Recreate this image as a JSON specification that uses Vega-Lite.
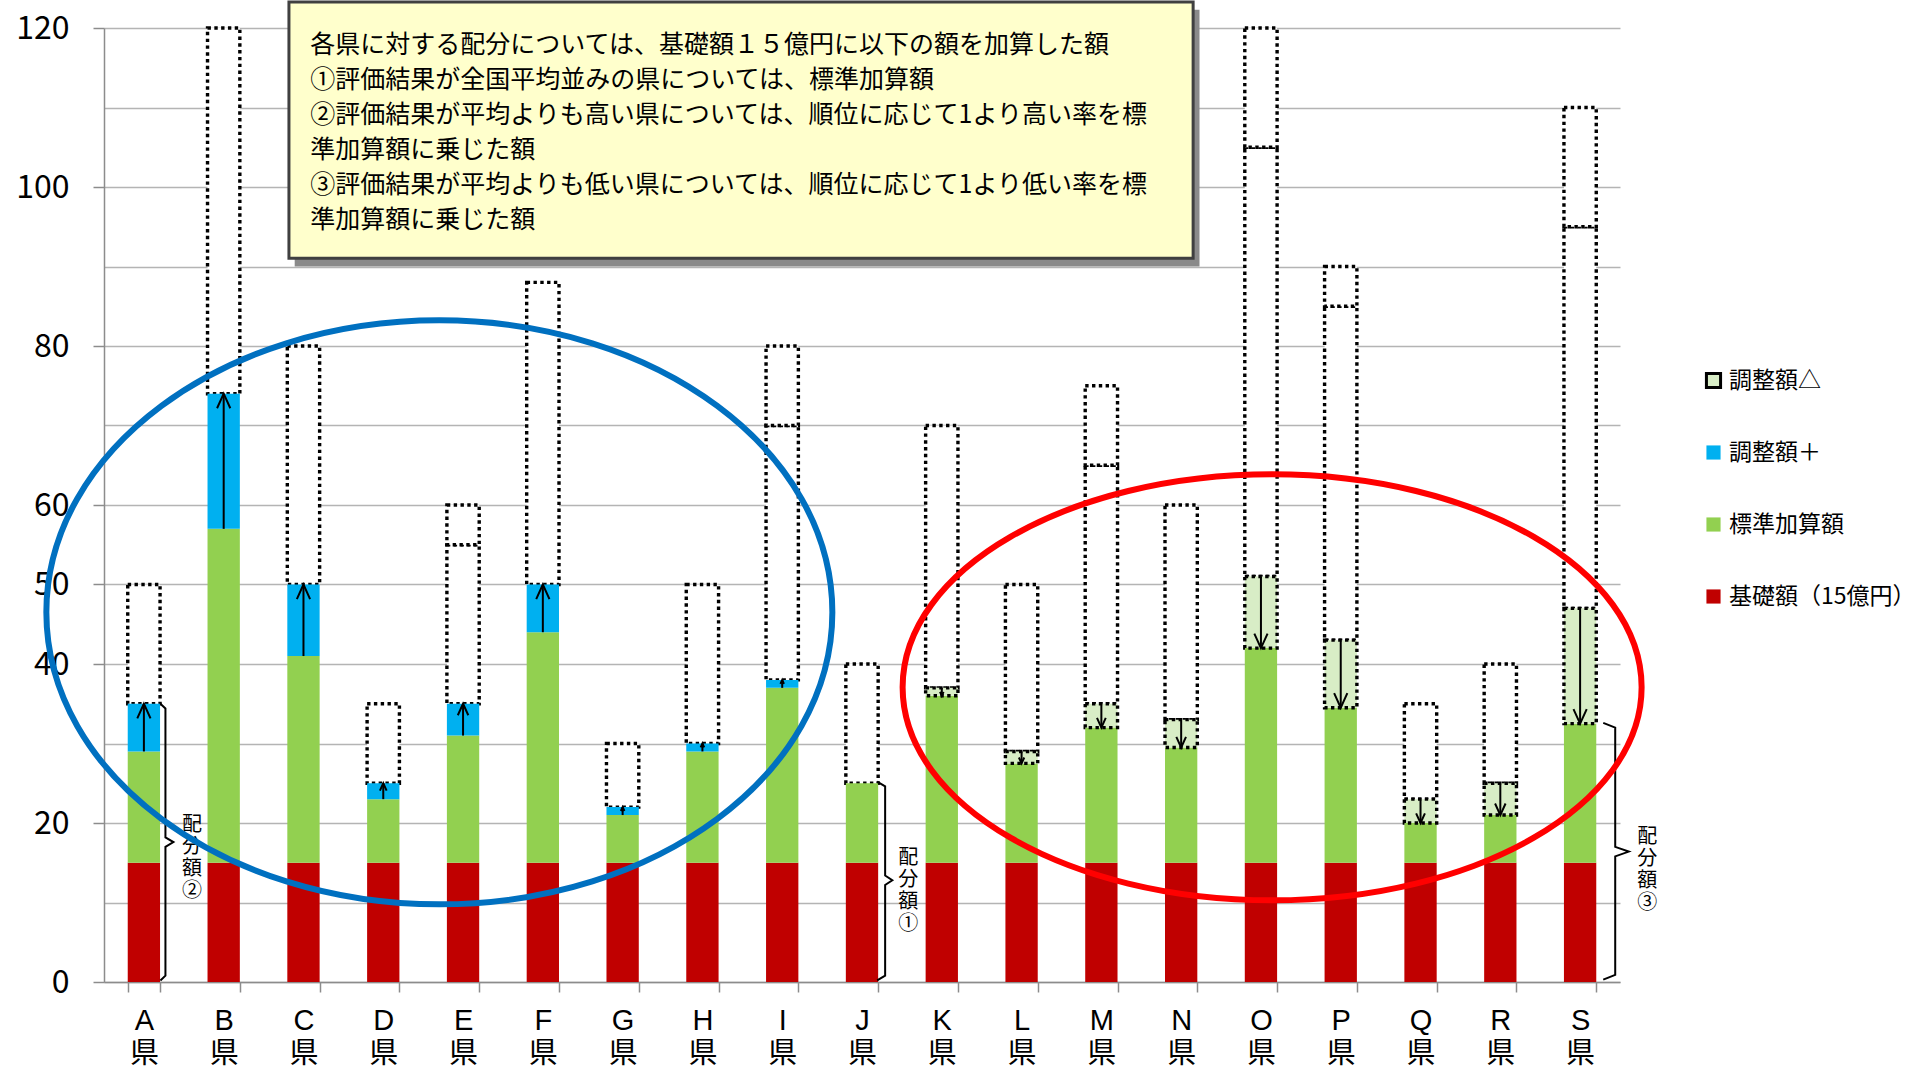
{
"$schema":"https://vega.github.io/schema/vega-lite/v6.json",
"width":1516,"height":954,
"autosize":{"type":"none"},
"padding":{"left":104,"top":28,"right":292,"bottom":86},
"background":"white",
"config":{"view":{"stroke":null},"font":"Noto Sans CJK JP"},
"datasets":{
"segs":[
{"pref":"A県","series":"基礎額（15億円）","lo":0,"hi":15},{"pref":"A県","series":"標準加算額","lo":15,"hi":29},{"pref":"A県","series":"調整額＋","lo":29,"hi":35},
{"pref":"B県","series":"基礎額（15億円）","lo":0,"hi":15},{"pref":"B県","series":"標準加算額","lo":15,"hi":57},{"pref":"B県","series":"調整額＋","lo":57,"hi":74},
{"pref":"C県","series":"基礎額（15億円）","lo":0,"hi":15},{"pref":"C県","series":"標準加算額","lo":15,"hi":41},{"pref":"C県","series":"調整額＋","lo":41,"hi":50},
{"pref":"D県","series":"基礎額（15億円）","lo":0,"hi":15},{"pref":"D県","series":"標準加算額","lo":15,"hi":23},{"pref":"D県","series":"調整額＋","lo":23,"hi":25},
{"pref":"E県","series":"基礎額（15億円）","lo":0,"hi":15},{"pref":"E県","series":"標準加算額","lo":15,"hi":31},{"pref":"E県","series":"調整額＋","lo":31,"hi":35},
{"pref":"F県","series":"基礎額（15億円）","lo":0,"hi":15},{"pref":"F県","series":"標準加算額","lo":15,"hi":44},{"pref":"F県","series":"調整額＋","lo":44,"hi":50},
{"pref":"G県","series":"基礎額（15億円）","lo":0,"hi":15},{"pref":"G県","series":"標準加算額","lo":15,"hi":21},{"pref":"G県","series":"調整額＋","lo":21,"hi":22},
{"pref":"H県","series":"基礎額（15億円）","lo":0,"hi":15},{"pref":"H県","series":"標準加算額","lo":15,"hi":29},{"pref":"H県","series":"調整額＋","lo":29,"hi":30},
{"pref":"I県","series":"基礎額（15億円）","lo":0,"hi":15},{"pref":"I県","series":"標準加算額","lo":15,"hi":37},{"pref":"I県","series":"調整額＋","lo":37,"hi":38},
{"pref":"J県","series":"基礎額（15億円）","lo":0,"hi":15},{"pref":"J県","series":"標準加算額","lo":15,"hi":25},
{"pref":"K県","series":"基礎額（15億円）","lo":0,"hi":15},{"pref":"K県","series":"標準加算額","lo":15,"hi":36},{"pref":"K県","series":"調整額△","lo":36,"hi":37},
{"pref":"L県","series":"基礎額（15億円）","lo":0,"hi":15},{"pref":"L県","series":"標準加算額","lo":15,"hi":27.5},{"pref":"L県","series":"調整額△","lo":27.5,"hi":29},
{"pref":"M県","series":"基礎額（15億円）","lo":0,"hi":15},{"pref":"M県","series":"標準加算額","lo":15,"hi":32},{"pref":"M県","series":"調整額△","lo":32,"hi":35},
{"pref":"N県","series":"基礎額（15億円）","lo":0,"hi":15},{"pref":"N県","series":"標準加算額","lo":15,"hi":29.5},{"pref":"N県","series":"調整額△","lo":29.5,"hi":33},
{"pref":"O県","series":"基礎額（15億円）","lo":0,"hi":15},{"pref":"O県","series":"標準加算額","lo":15,"hi":42},{"pref":"O県","series":"調整額△","lo":42,"hi":51},
{"pref":"P県","series":"基礎額（15億円）","lo":0,"hi":15},{"pref":"P県","series":"標準加算額","lo":15,"hi":34.5},{"pref":"P県","series":"調整額△","lo":34.5,"hi":43},
{"pref":"Q県","series":"基礎額（15億円）","lo":0,"hi":15},{"pref":"Q県","series":"標準加算額","lo":15,"hi":20},{"pref":"Q県","series":"調整額△","lo":20,"hi":23},
{"pref":"R県","series":"基礎額（15億円）","lo":0,"hi":15},{"pref":"R県","series":"標準加算額","lo":15,"hi":21},{"pref":"R県","series":"調整額△","lo":21,"hi":25},
{"pref":"S県","series":"基礎額（15億円）","lo":0,"hi":15},{"pref":"S県","series":"標準加算額","lo":15,"hi":32.5},{"pref":"S県","series":"調整額△","lo":32.5,"hi":47}
],
"boxes":[
{"pref":"A県","lo":35,"hi":50},{"pref":"B県","lo":74,"hi":120},{"pref":"C県","lo":50,"hi":80},{"pref":"D県","lo":25,"hi":35},
{"pref":"E県","lo":35,"hi":55},{"pref":"E県","lo":55,"hi":60},{"pref":"F県","lo":50,"hi":88},{"pref":"G県","lo":22,"hi":30},
{"pref":"H県","lo":30,"hi":50},{"pref":"I県","lo":38,"hi":70},{"pref":"I県","lo":70,"hi":80},{"pref":"J県","lo":25,"hi":40},
{"pref":"K県","lo":37,"hi":70},{"pref":"L県","lo":29,"hi":50},{"pref":"M県","lo":35,"hi":65},{"pref":"M県","lo":65,"hi":75},
{"pref":"N県","lo":33,"hi":60},{"pref":"O県","lo":51,"hi":105},{"pref":"O県","lo":105,"hi":120},{"pref":"P県","lo":43,"hi":85},
{"pref":"P県","lo":85,"hi":90},{"pref":"Q県","lo":23,"hi":35},{"pref":"R県","lo":25,"hi":40},{"pref":"S県","lo":47,"hi":95},{"pref":"S県","lo":95,"hi":110}
],
"arrows":[
{"pref":"A県","dir":"up","from":29,"to":35,"amt":6},{"pref":"B県","dir":"up","from":57,"to":74,"amt":17},
{"pref":"C県","dir":"up","from":41,"to":50,"amt":9},{"pref":"D県","dir":"up","from":23,"to":25,"amt":2},
{"pref":"E県","dir":"up","from":31,"to":35,"amt":4},{"pref":"F県","dir":"up","from":44,"to":50,"amt":6},
{"pref":"G県","dir":"up","from":21,"to":22,"amt":1},{"pref":"H県","dir":"up","from":29,"to":30,"amt":1},
{"pref":"I県","dir":"up","from":37,"to":38,"amt":1},
{"pref":"K県","dir":"down","from":37,"to":36,"amt":1},{"pref":"L県","dir":"down","from":29,"to":27.5,"amt":1.5},
{"pref":"M県","dir":"down","from":35,"to":32,"amt":3},{"pref":"N県","dir":"down","from":33,"to":29.5,"amt":3.5},
{"pref":"O県","dir":"down","from":51,"to":42,"amt":9},{"pref":"P県","dir":"down","from":43,"to":34.5,"amt":8.5},
{"pref":"Q県","dir":"down","from":23,"to":20,"amt":3},{"pref":"R県","dir":"down","from":25,"to":21,"amt":4},
{"pref":"S県","dir":"down","from":47,"to":32.5,"amt":14.5}
],
"braces":[
{"g":"A","o":1,"ax":0.707,"ay":35},{"g":"A","o":2,"ax":0.77,"ay":34.4},{"g":"A","o":3,"ax":0.77,"ay":18.2},{"g":"A","o":4,"ax":0.87,"ay":17.6},{"g":"A","o":5,"ax":0.77,"ay":17.0},{"g":"A","o":6,"ax":0.77,"ay":0.8},{"g":"A","o":7,"ax":0.707,"ay":0.2},
{"g":"J","o":1,"ax":9.69,"ay":25.2},{"g":"J","o":2,"ax":9.79,"ay":24.6},{"g":"J","o":3,"ax":9.79,"ay":13.4},{"g":"J","o":4,"ax":9.88,"ay":12.8},{"g":"J","o":5,"ax":9.79,"ay":12.2},{"g":"J","o":6,"ax":9.79,"ay":0.8},{"g":"J","o":7,"ax":9.69,"ay":0.2},
{"g":"S","o":1,"ax":18.79,"ay":32.6},{"g":"S","o":2,"ax":18.94,"ay":32.0},{"g":"S","o":3,"ax":18.94,"ay":17.0},{"g":"S","o":4,"ax":19.11,"ay":16.4},{"g":"S","o":5,"ax":18.94,"ay":15.8},{"g":"S","o":6,"ax":18.94,"ay":0.9},{"g":"S","o":7,"ax":18.79,"ay":0.3}
],
"btext":[
{"ax":1.104,"ay":20.95,"t":"配\n分\n額\n②"},
{"ax":10.08,"ay":16.8,"t":"配\n分\n額\n①"},
{"ax":19.34,"ay":19.46,"t":"配\n分\n額\n③"}
],
"ellipses":[
{"e":"blue","ax":4.203,"ay":46.5},
{"e":"red","ax":14.64,"ay":37.07}
],
"shadow":[{"ax":2.39,"ax2":13.73,"ay":122.3,"ay2":90.0}],
"box":[{"ax":2.318,"ax2":13.65,"ay":123.27,"ay2":91.03}],
"lines":[
{"ax":2.586,"ay":117.82,"t":"各県に対する配分については、基礎額１５億円に以下の額を加算した額"},
{"ax":2.586,"ay":113.42,"t":"①評価結果が全国平均並みの県については、標準加算額"},
{"ax":2.586,"ay":109.02,"t":"②評価結果が平均よりも高い県については、順位に応じて1より高い率を標"},
{"ax":2.586,"ay":104.62,"t":"準加算額に乗じた額"},
{"ax":2.586,"ay":100.21,"t":"③評価結果が平均よりも低い県については、順位に応じて1より低い率を標"},
{"ax":2.586,"ay":95.81,"t":"準加算額に乗じた額"}
]
},
"resolve":{"scale":{"x":"independent","shape":"independent"}},
"layer":[
{"layer":[
{"data":{"name":"boxes"},
"mark":{"type":"bar","fill":"white","stroke":"black","strokeWidth":3.4,"strokeDash":[3.4,3.4]},
"encoding":{
"x":{"field":"pref","type":"nominal","sort":null,"title":null,
"scale":{"domain":["A県","B県","C県","D県","E県","F県","G県","H県","I県","J県","K県","L県","M県","N県","O県","P県","Q県","R県","S県"],"paddingInner":0.595,"paddingOuter":0.2975},
"axis":{"title":null,"labelExpr":"datum.label ? [substring(datum.label,0,1), '県'] : ''","labelFontSize":29,"labelFont":"Liberation Sans, Noto Sans CJK JP","labelColor":"black","labelLineHeight":33,"labelAngle":0,"tickBand":"extent","tickSize":10,"tickColor":"#8c8c8c","tickWidth":1.5,"domainColor":"#8c8c8c","domainWidth":1.5,"labelPadding":14,"grid":false}},
"y":{"field":"hi","type":"quantitative","title":null,
"scale":{"domain":[0,120],"nice":false},
"axis":{"title":null,"values":[0,10,20,30,40,50,60,70,80,90,100,110,120],"labelExpr":"indexof([0,20,40,50,60,80,100,120], datum.value) >= 0 ? datum.label : ''","labelFontSize":32,"labelFont":"Noto Sans CJK JP","labelColor":"black","labelPadding":24,"tickSize":11,"tickColor":"#8c8c8c","tickWidth":1.5,"tickOpacity":{"condition":{"test":"indexof([0,20,40,50,60,80,100,120], datum.value) >= 0","value":1},"value":0},"domainColor":"#8c8c8c","domainWidth":1.5,"grid":true,"gridColor":"#b4b4b4","gridWidth":1.5}},
"y2":{"field":"lo"}}},
{"data":{"name":"segs"},
"transform":[{"filter":"datum.series !== '調整額△'"}],
"mark":{"type":"bar"},
"encoding":{
"x":{"field":"pref","type":"nominal","sort":null,"title":null,"scale":{"domain":["A県","B県","C県","D県","E県","F県","G県","H県","I県","J県","K県","L県","M県","N県","O県","P県","Q県","R県","S県"]}},
"y":{"field":"hi","type":"quantitative","title":null,"scale":{"domain":[0,120],"nice":false}},
"y2":{"field":"lo"},
"color":{"field":"series","type":"nominal",
"scale":{"domain":["調整額＋","標準加算額","基礎額（15億円）"],"range":["#00B0F0","#92D050","#C00000"]},
"legend":{"title":null,"orient":"none","legendX":1598,"legendY":413,"direction":"vertical","symbolType":"square","symbolSize":200,"labelFontSize":23,"labelFont":"Noto Sans CJK JP","labelColor":"black","labelLimit":0,"rowPadding":48,"labelOffset":4,"padding":0}}}},
{"data":{"name":"segs"},
"transform":[{"filter":"datum.series === '調整額△'"}],
"mark":{"type":"bar","stroke":"black","strokeWidth":3.4,"strokeDash":[3.4,3.4]},
"encoding":{
"x":{"field":"pref","type":"nominal","sort":null,"title":null,"scale":{"domain":["A県","B県","C県","D県","E県","F県","G県","H県","I県","J県","K県","L県","M県","N県","O県","P県","Q県","R県","S県"]}},
"y":{"field":"hi","type":"quantitative","title":null,"scale":{"domain":[0,120],"nice":false}},
"y2":{"field":"lo"},
"fill":{"field":"series","type":"nominal",
"scale":{"domain":["調整額△"],"range":["#D8EDC6"]},
"legend":{"title":null,"orient":"none","legendX":1598,"legendY":341,"direction":"vertical","symbolType":"square","symbolSize":200,"symbolStrokeWidth":3,"labelFontSize":23,"labelFont":"Noto Sans CJK JP","labelColor":"black","labelLimit":0,"labelOffset":4,"padding":0}}}},
{"data":{"name":"arrows"},
"mark":{"type":"rule","strokeWidth":2,"color":"black"},
"encoding":{
"x":{"field":"pref","type":"nominal","sort":null,"title":null,"scale":{"domain":["A県","B県","C県","D県","E県","F県","G県","H県","I県","J県","K県","L県","M県","N県","O県","P県","Q県","R県","S県"]}},
"y":{"field":"from","type":"quantitative","title":null,"scale":{"domain":[0,120],"nice":false}},
"y2":{"field":"to"}}},
{"data":{"name":"arrows"},
"mark":{"type":"point","filled":false,"stroke":"black","strokeWidth":2,"opacity":1},
"encoding":{
"x":{"field":"pref","type":"nominal","sort":null,"title":null,"scale":{"domain":["A県","B県","C県","D県","E県","F県","G県","H県","I県","J県","K県","L県","M県","N県","O県","P県","Q県","R県","S県"]}},
"y":{"field":"to","type":"quantitative","title":null,"scale":{"domain":[0,120],"nice":false}},
"shape":{"field":"dir","type":"nominal","scale":{"domain":["up","down"],"range":["M -0.5 1.1 L 0 0 L 0.5 1.1","M -0.5 -1.1 L 0 0 L 0.5 -1.1"]},"legend":null},
"size":{"field":"amt","type":"quantitative","scale":{"domain":[1,6],"range":[50,700],"clamp":true},"legend":null}}}
]},
{"layer":[
{"data":{"name":"braces"},
"mark":{"type":"line","color":"black","strokeWidth":2},
"encoding":{
"x":{"field":"ax","type":"quantitative","scale":{"domain":[0,19],"nice":false,"zero":false},"axis":null},
"y":{"field":"ay","type":"quantitative","title":null,"scale":{"domain":[0,120],"nice":false}},
"detail":{"field":"g"},
"order":{"field":"o","type":"quantitative"}}},
{"data":{"name":"btext"},
"mark":{"type":"text","fontSize":20,"lineBreak":"\n","lineHeight":22,"baseline":"top","align":"center","font":"Noto Sans CJK JP","color":"black"},
"encoding":{
"x":{"field":"ax","type":"quantitative","axis":null},
"y":{"field":"ay","type":"quantitative","title":null},
"text":{"field":"t"}}},
{"data":{"name":"ellipses"},
"mark":{"type":"point","filled":false,"strokeWidth":6,"size":1000000,"opacity":1},
"encoding":{
"x":{"field":"ax","type":"quantitative","axis":null},
"y":{"field":"ay","type":"quantitative","title":null},
"shape":{"field":"e","type":"nominal","scale":{"domain":["blue","red"],"range":["M -0.786 0 C -0.786 -0.3225 -0.4341 -0.584 0 -0.584 C 0.4341 -0.584 0.786 -0.3225 0.786 0 C 0.786 0.3225 0.4341 0.584 0 0.584 C -0.4341 0.584 -0.786 0.3225 -0.786 0 Z","M -0.739 0 C -0.739 -0.2353 -0.4082 -0.426 0 -0.426 C 0.4082 -0.426 0.739 -0.2353 0.739 0 C 0.739 0.2353 0.4082 0.426 0 0.426 C -0.4082 0.426 -0.739 0.2353 -0.739 0 Z"]},"legend":null},
"stroke":{"field":"e","type":"nominal","scale":{"domain":["blue","red"],"range":["#0070C0","#FF0000"]},"legend":null}}},
{"data":{"name":"shadow"},
"mark":{"type":"rect","fill":"#8a8a8a"},
"encoding":{
"x":{"field":"ax","type":"quantitative","axis":null},"x2":{"field":"ax2"},
"y":{"field":"ay","type":"quantitative","title":null},"y2":{"field":"ay2"}}},
{"data":{"name":"box"},
"mark":{"type":"rect","fill":"#FFFFCC","stroke":"#404040","strokeWidth":3},
"encoding":{
"x":{"field":"ax","type":"quantitative","axis":null},"x2":{"field":"ax2"},
"y":{"field":"ay","type":"quantitative","title":null},"y2":{"field":"ay2"}}},
{"data":{"name":"lines"},
"mark":{"type":"text","fontSize":25,"baseline":"middle","align":"left","font":"Noto Sans CJK JP","color":"black"},
"encoding":{
"x":{"field":"ax","type":"quantitative","axis":null},
"y":{"field":"ay","type":"quantitative","title":null},
"text":{"field":"t"}}}
]}
]
}
